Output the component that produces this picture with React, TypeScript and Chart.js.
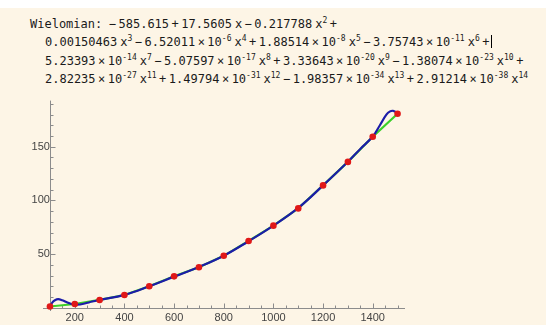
import React, { useEffect, useRef } from "react";
import { Chart, registerables } from "chart.js";

Chart.register(...registerables);

// ---- data ----
const POINT_X = [100, 200, 300, 400, 500, 600, 700, 800, 900, 1000, 1100, 1200, 1300, 1400, 1500];
const POINT_Y = [1.2, 3.5, 7.3, 11.9, 20.1, 29.3, 37.8, 48.4, 62.2, 76.5, 92.6, 114, 135.9, 159.3, 180.7];

const CURVE_X = [100, 110, 120, 133, 150, 170, 190, 210, 240, 270, 300, 400, 500, 600, 700, 800, 900, 1000, 1100, 1200, 1300, 1350, 1400, 1430, 1455, 1470, 1482, 1492, 1500];
const CURVE_Y = [1.2, 5, 7, 8, 7, 5, 3.3, 2.9, 4, 5.8, 7.3, 12, 20, 29, 38, 48.5, 62, 76.5, 93, 114, 136, 148, 159.5, 170.5, 180, 183, 183.5, 182.5, 180.7];

const X_LABEL_TICKS = [200, 400, 600, 800, 1000, 1200, 1400];
const Y_LABEL_TICKS = [50, 100, 150];
const X_MINOR_TICKS = [150, 200, 250, 300, 350, 400, 450, 500, 550, 600, 650, 700, 750, 800, 850, 900, 950, 1000, 1050, 1100, 1150, 1200, 1250, 1300, 1350, 1400, 1450, 1500];
const Y_MINOR_TICKS = [10, 20, 30, 40, 50, 60, 70, 80, 90, 100, 110, 120, 130, 140, 150, 160, 170, 180, 190];

const X_RANGE = [72, 1530];
const Y_RANGE = [-3, 193];
const AXIS_ORIGIN = [100, 0];

// polynomial text: [sign, mantissa, power of ten, power of x]
const LINE1 = [
  ["−", "585.615", "", ""],
  ["+", "17.5605", "", "1"],
  ["−", "0.217788", "", "2"],
];
const LINE2 = [
  ["", "0.00150463", "", "3"],
  ["−", "6.52011", "-6", "4"],
  ["+", "1.88514", "-8", "5"],
  ["−", "3.75743", "-11", "6"],
];
const LINE3 = [
  ["", "5.23393", "-14", "7"],
  ["−", "5.07597", "-17", "8"],
  ["+", "3.33643", "-20", "9"],
  ["−", "1.38074", "-23", "10"],
];
const LINE4 = [
  ["", "2.82235", "-27", "11"],
  ["+", "1.49794", "-31", "12"],
  ["−", "1.98357", "-34", "13"],
  ["+", "2.91214", "-38", "14"],
];

const BG = "#fdf5e6";
const AXIS_COLOR = "#8c8c8c";
const TEXT_FONT = "'DejaVu Sans Mono', monospace";

const supStyle: React.CSSProperties = { fontSize: "8px", position: "relative", top: "-5px" };
const opStyle: React.CSSProperties = { margin: "0 2.5px" };

function Term({ t }: { t: string[] }) {
  const [sign, mant, p10, px] = t;
  return (
    <>
      {sign ? <span style={opStyle}>{sign}</span> : null}
      <span>{mant}</span>
      {p10 ? (
        <>
          <span style={opStyle}>×</span>
          <span>10</span>
          <span style={supStyle}>{p10}</span>
        </>
      ) : null}
      {px ? (
        <>
          <span style={{ marginLeft: "3px" }}>x</span>
          {px !== "1" ? <span style={supStyle}>{px}</span> : null}
        </>
      ) : null}
    </>
  );
}

function Line({ terms, lead, tail, indent }: { terms: string[][]; lead?: string; tail?: React.ReactNode; indent: number }) {
  return (
    <div style={{ whiteSpace: "nowrap", paddingLeft: indent + "px", height: "18.5px", lineHeight: "18.5px" }}>
      {lead ? <span style={{ marginRight: "4px" }}>{lead}</span> : null}
      {terms.map((t, i) => (
        <Term key={i} t={t} />
      ))}
      {tail}
    </div>
  );
}

const mmaAxes = {
  id: "mmaAxes",
  beforeDatasetsDraw(chart: any) {
    const { ctx, chartArea: ca, scales } = chart;
    const xs = scales.x;
    const ys = scales.y;
    const x0 = Math.round(xs.getPixelForValue(AXIS_ORIGIN[0])) + 0.5;
    const y0 = Math.round(ys.getPixelForValue(AXIS_ORIGIN[1])) + 0.5;
    ctx.save();
    ctx.strokeStyle = AXIS_COLOR;
    ctx.lineWidth = 1;
    ctx.beginPath();
    ctx.moveTo(ca.left, y0);
    ctx.lineTo(ca.right, y0);
    ctx.moveTo(x0, ca.top);
    ctx.lineTo(x0, ca.bottom);
    for (const v of X_MINOR_TICKS) {
      const p = Math.round(xs.getPixelForValue(v)) + 0.5;
      const len = X_LABEL_TICKS.includes(v) ? 5 : 3;
      ctx.moveTo(p, y0);
      ctx.lineTo(p, y0 - len);
    }
    for (const v of Y_MINOR_TICKS) {
      const p = Math.round(ys.getPixelForValue(v)) + 0.5;
      const len = Y_LABEL_TICKS.includes(v) ? 5 : 3;
      ctx.moveTo(x0, p);
      ctx.lineTo(x0 + len, p);
    }
    ctx.stroke();
    ctx.restore();
  },
};

export default function App() {
  const ref = useRef<HTMLCanvasElement | null>(null);

  useEffect(() => {
    if (!ref.current) return;
    const chart = new Chart(ref.current, {
      type: "scatter",
      data: {
        datasets: [
          {
            label: "punkty",
            data: POINT_X.map((x, i) => ({ x, y: POINT_Y[i] })),
            backgroundColor: "#e01818",
            borderColor: "#e01818",
            pointRadius: 3.3,
            borderWidth: 0,
            showLine: false,
          },
          {
            label: "wielomian",
            data: CURVE_X.map((x, i) => ({ x, y: CURVE_Y[i] })),
            borderColor: "#1c1ca8",
            borderWidth: 2.2,
            pointRadius: 0,
            showLine: true,
            tension: 0.4,
          },
          {
            label: "łamana",
            data: POINT_X.map((x, i) => ({ x, y: POINT_Y[i] })),
            borderColor: "#3ccf2a",
            borderWidth: 2.2,
            pointRadius: 0,
            showLine: true,
            tension: 0,
          },
        ],
      },
      options: {
        animation: false,
        responsive: false,
        devicePixelRatio: 1,
        layout: { padding: { left: 43, right: 141, top: 7, bottom: 14 } },
        plugins: { legend: { display: false }, tooltip: { enabled: false }, title: { display: false } },
        scales: {
          x: {
            type: "linear",
            min: X_RANGE[0],
            max: X_RANGE[1],
            position: { y: AXIS_ORIGIN[1] } as any,
            grid: { display: false, drawTicks: false },
            border: { display: false },
            afterBuildTicks: (s: any) => {
              s.ticks = X_LABEL_TICKS.map((v) => ({ value: v }));
            },
            ticks: {
              autoSkip: false,
              maxRotation: 0,
              padding: 4,
              color: "#444",
              font: { family: "'Liberation Sans', Arial, sans-serif", size: 11 },
              callback: (v: any) => String(v),
            },
          },
          y: {
            type: "linear",
            min: Y_RANGE[0],
            max: Y_RANGE[1],
            position: { x: AXIS_ORIGIN[0] } as any,
            grid: { display: false, drawTicks: false },
            border: { display: false },
            afterBuildTicks: (s: any) => {
              s.ticks = Y_LABEL_TICKS.map((v) => ({ value: v }));
            },
            ticks: {
              autoSkip: false,
              padding: 4,
              color: "#444",
              font: { family: "'Liberation Sans', Arial, sans-serif", size: 11 },
              callback: (v: any) => String(v),
            },
          },
        },
      },
      plugins: [mmaAxes],
    });
    return () => chart.destroy();
  }, []);

  return (
    <div style={{ position: "absolute", left: 0, top: 0, width: "546px", height: "325px", background: "#fff", overflow: "hidden" }}>
      <div style={{ position: "absolute", left: 0, top: "8px", width: "546px", height: "317px", background: BG }} />
      <div
        style={{
          position: "absolute",
          left: "30px",
          top: "14.75px",
          fontFamily: TEXT_FONT,
          fontSize: "12px",
          color: "#1a1a1a",
        }}
      >
        <Line terms={LINE1} lead="Wielomian:" indent={0} tail={<span style={opStyle}>+</span>} />
        <Line
          terms={LINE2}
          indent={15}
          tail={
            <>
              <span style={opStyle}>+</span>
              <span style={{ display: "inline-block", width: "1px", height: "13px", background: "#000", verticalAlign: "-2px", marginLeft: "-1px" }} />
            </>
          }
        />
        <Line terms={LINE3} indent={15} tail={<span style={opStyle}>+</span>} />
        <Line terms={LINE4} indent={15} />
      </div>
      <canvas ref={ref} width={546} height={235} style={{ position: "absolute", left: 0, top: "90px", width: "546px", height: "235px" }} />
    </div>
  );
}
